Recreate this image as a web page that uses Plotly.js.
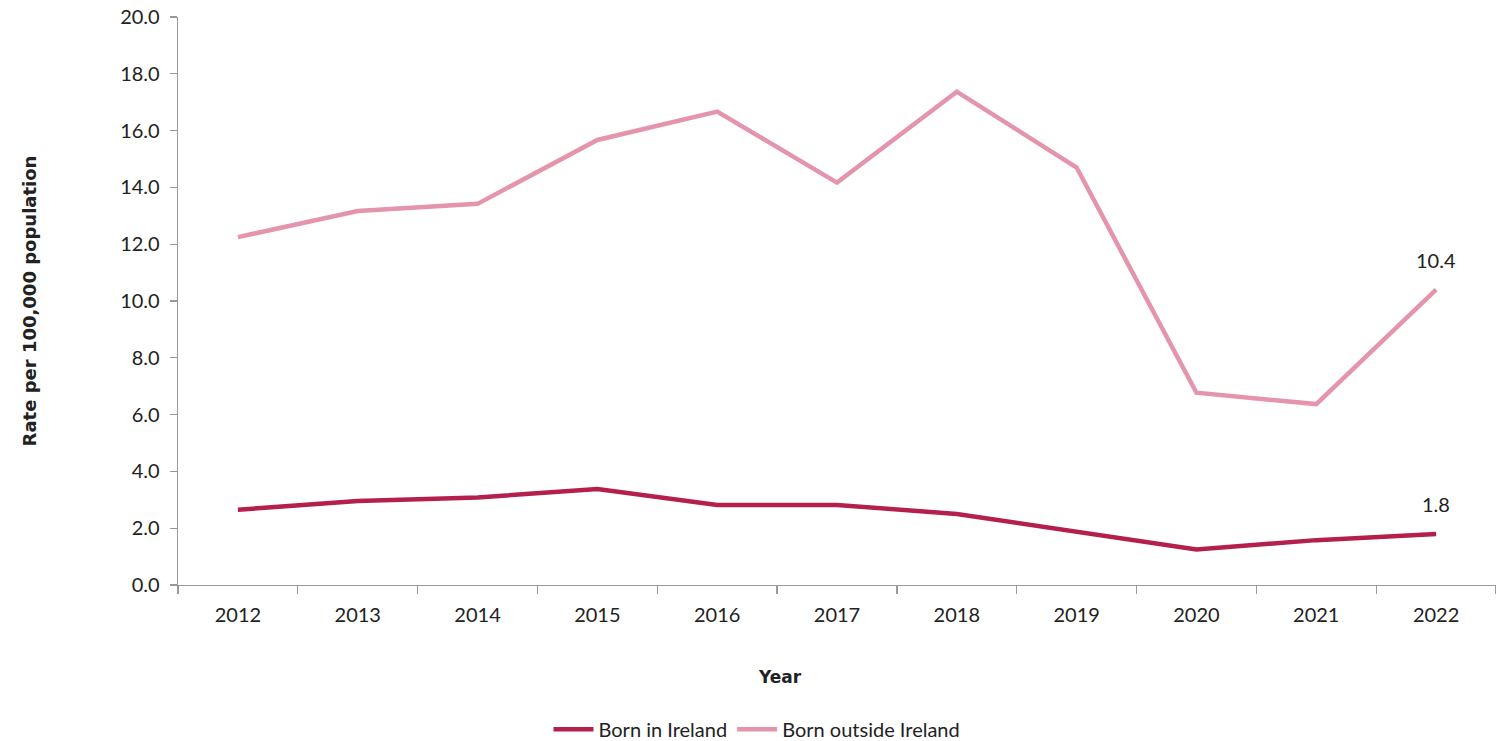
<!DOCTYPE html>
<html>
<head>
<meta charset="utf-8">
<script src="https://cdn.plot.ly/plotly-3.0.1.min.js"></script>
<style>html,body{margin:0;padding:0;background:#fff;}#chart{width:1496px;height:741px;}</style>
</head>
<body>
<div id="chart"></div>
<script>
const years = ['2012','2013','2014','2015','2016','2017','2018','2019','2020','2021','2022'];
const bornInIreland = [2.65, 2.96, 3.08, 3.38, 2.82, 2.82, 2.5, 1.87, 1.25, 1.58, 1.8];
const bornOutsideIreland = [12.25, 13.17, 13.42, 15.67, 16.67, 14.17, 17.37, 14.7, 6.77, 6.37, 10.4];
const seriesNames = ['Born in Ireland', 'Born outside Ireland'];
const lastLabels = ['1.8', '10.4'];

const font = 'Lato, "Open Sans", "Liberation Sans", sans-serif';
const boldFont = '"DejaVu Sans", Verdana, sans-serif';
const colIn = '#B51F4C';
const colOut = '#E595AB';

const traces = [
  {x: years, y: bornInIreland, name: seriesNames[0], type: 'scatter', mode: 'lines',
   line: {color: colIn, width: 4.5}},
  {x: years, y: bornOutsideIreland, name: seriesNames[1], type: 'scatter', mode: 'lines',
   line: {color: colOut, width: 4.5}}
];

const last = years.length - 1;
const layout = {
  width: 1496, height: 741,
  margin: {l: 178, r: 0, t: 17, b: 156},
  paper_bgcolor: '#fff', plot_bgcolor: '#fff',
  font: {family: font, size: 20, color: '#222'},
  showlegend: true,
  legend: {orientation: 'h', xref: 'container', yref: 'container', x: 0.506, xanchor: 'center',
           y: 0.016, yanchor: 'middle', font: {family: font, size: 20, color: '#222'},
           itemwidth: 40, tracegroupgap: 0},
  xaxis: {type: 'category', range: [-0.5, 10.5], showline: true, linecolor: '#999', linewidth: 1.3,
          ticks: 'outside', tickson: 'boundaries', ticklen: 8, tickcolor: '#999', tickwidth: 1.3,
          ticklabelstandoff: 12,
          showgrid: false, zeroline: false, tickfont: {family: font, size: 20, color: '#222'}},
  yaxis: {range: [0, 20], dtick: 2, tickformat: '.1f', showline: true, linecolor: '#999', linewidth: 1.3,
          ticks: 'outside', ticklen: 7, tickcolor: '#999', tickwidth: 1.3, showgrid: false, zeroline: false,
          ticklabelstandoff: 6,
          tickfont: {family: font, size: 20, color: '#222'},
          title: {text: '<b>Rate per 100,000 population</b>', font: {family: boldFont, size: 18, color: '#222'}, standoff: 79}},
  annotations: [
    {x: last, y: bornInIreland[last], xref: 'x', yref: 'y', text: lastLabels[0], showarrow: false,
     yshift: 30, font: {family: font, size: 20, color: '#222'}},
    {x: last, y: bornOutsideIreland[last], xref: 'x', yref: 'y', text: lastLabels[1], showarrow: false,
     yshift: 30, font: {family: font, size: 20, color: '#222'}},
    {x: 0.4568, y: -0.162, xref: 'paper', yref: 'paper', text: '<b>Year</b>', showarrow: false,
     xanchor: 'center', yanchor: 'middle', font: {family: boldFont, size: 17, color: '#222'}}
  ]
};

Plotly.newPlot('chart', traces, layout, {displayModeBar: false, staticPlot: true});
</script>
</body>
</html>
